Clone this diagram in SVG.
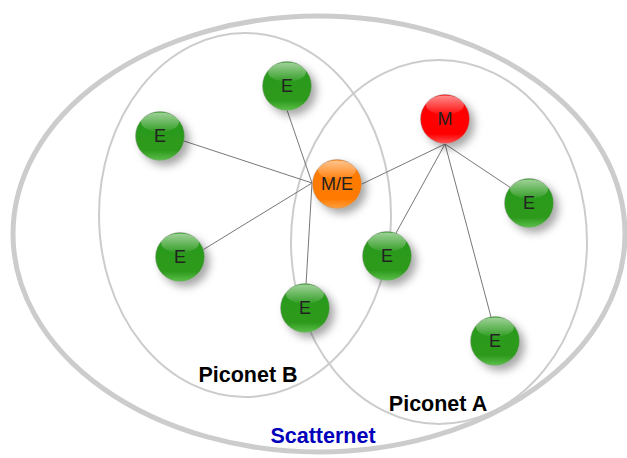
<svg xmlns="http://www.w3.org/2000/svg" width="627" height="458" viewBox="0 0 627 458">
  <style>
    .net { fill: none; stroke: #cccccc; }
    .link { stroke: #777777; stroke-width: 1; fill: none; }
    .node-label { font-family: "Liberation Sans", Arial, sans-serif; font-size: 18px; fill: #222222; text-anchor: middle; dominant-baseline: central; }
    .net-label { font-family: "Liberation Sans", Arial, sans-serif; font-size: 21.5px; font-weight: bold; text-anchor: middle; }
    .rim { fill: none; stroke: #999999; stroke-width: 0.8; stroke-opacity: 0.6; }
  </style>
  <defs>
    <filter id="shadow" x="-50%" y="-50%" width="200%" height="200%">
      <feDropShadow dx="5" dy="5" stdDeviation="4" flood-color="#000000" flood-opacity="0.35"/>
    </filter>
    <linearGradient id="green" x1="0" y1="0" x2="0" y2="1">
      <stop offset="0" stop-color="#2a9a1c"/>
      <stop offset="0.8" stop-color="#2e9a1e"/>
      <stop offset="1" stop-color="#5cc04a"/>
    </linearGradient>
    <linearGradient id="red" x1="0" y1="0" x2="0" y2="1">
      <stop offset="0" stop-color="#ff0000"/>
      <stop offset="0.8" stop-color="#ff0000"/>
      <stop offset="1" stop-color="#ff5050"/>
    </linearGradient>
    <linearGradient id="orange" x1="0" y1="0" x2="0" y2="1">
      <stop offset="0" stop-color="#ff7a00"/>
      <stop offset="0.8" stop-color="#ff7a00"/>
      <stop offset="1" stop-color="#ffa040"/>
    </linearGradient>
    <linearGradient id="gloss" x1="0" y1="0" x2="0" y2="1">
      <stop offset="0" stop-color="#ffffff" stop-opacity="0.55"/>
      <stop offset="1" stop-color="#ffffff" stop-opacity="0.05"/>
    </linearGradient>
    <g id="ball-green">
      <circle r="24.5" fill="url(#green)" filter="url(#shadow)"/>
      <ellipse cx="0" cy="-14" rx="19" ry="9.5" fill="url(#gloss)"/>
      <circle r="24.5" class="rim"/>
    </g>
    <g id="ball-red">
      <circle r="24.5" fill="url(#red)" filter="url(#shadow)"/>
      <ellipse cx="0" cy="-14" rx="19" ry="9.5" fill="url(#gloss)"/>
      <circle r="24.5" class="rim"/>
    </g>
    <g id="ball-orange">
      <circle r="24.5" fill="url(#orange)" filter="url(#shadow)"/>
      <ellipse cx="0" cy="-14" rx="19" ry="9.5" fill="url(#gloss)"/>
      <circle r="24.5" class="rim"/>
    </g>
  </defs>

  <rect width="627" height="458" fill="#ffffff"/>

  <!-- network boundaries -->
  <g id="scatternet">
    <ellipse class="net" cx="319" cy="234" rx="306" ry="218" stroke-width="5"/>
  </g>
  <g id="piconet-b">
    <ellipse class="net" cx="245" cy="215" rx="146" ry="182" stroke-width="2"/>
  </g>
  <g id="piconet-a">
    <ellipse class="net" cx="439" cy="242" rx="148" ry="182" stroke-width="2"/>
  </g>

  <!-- connectors -->
  <g id="connectors">
    <line class="link" x1="312" y1="183" x2="184" y2="141"/>
    <line class="link" x1="312" y1="183" x2="287" y2="110"/>
    <line class="link" x1="312" y1="183" x2="201" y2="251"/>
    <line class="link" x1="312" y1="183" x2="306" y2="285"/>
    <line class="link" x1="445" y1="144" x2="362" y2="184"/>
    <line class="link" x1="445" y1="144" x2="396" y2="233"/>
    <line class="link" x1="445" y1="144" x2="511" y2="188"/>
    <line class="link" x1="445" y1="144" x2="491" y2="317"/>
  </g>

  <!-- devices -->
  <g id="node-e-top" transform="translate(287,86)">
    <use href="#ball-green"/><text class="node-label" y="0">E</text>
  </g>
  <g id="node-e-left" transform="translate(160,136)">
    <use href="#ball-green"/><text class="node-label" y="0">E</text>
  </g>
  <g id="node-me" transform="translate(337,184)">
    <use href="#ball-orange"/><text class="node-label" y="0">M/E</text>
  </g>
  <g id="node-m" transform="translate(445,119)">
    <use href="#ball-red"/><text class="node-label" y="0">M</text>
  </g>
  <g id="node-e-right" transform="translate(529,203)">
    <use href="#ball-green"/><text class="node-label" y="0">E</text>
  </g>
  <g id="node-e-midleft" transform="translate(180,257)">
    <use href="#ball-green"/><text class="node-label" y="0">E</text>
  </g>
  <g id="node-e-center" transform="translate(387,256)">
    <use href="#ball-green"/><text class="node-label" y="0">E</text>
  </g>
  <g id="node-e-bottom" transform="translate(305,308)">
    <use href="#ball-green"/><text class="node-label" y="0">E</text>
  </g>
  <g id="node-e-bottomright" transform="translate(495,341)">
    <use href="#ball-green"/><text class="node-label" y="0">E</text>
  </g>

  <!-- network labels -->
  <text class="net-label" x="248" y="382" fill="#000000">Piconet B</text>
  <text class="net-label" x="438" y="411" fill="#000000">Piconet A</text>
  <text class="net-label" x="323" y="443" fill="#0000bb">Scatternet</text>
</svg>
